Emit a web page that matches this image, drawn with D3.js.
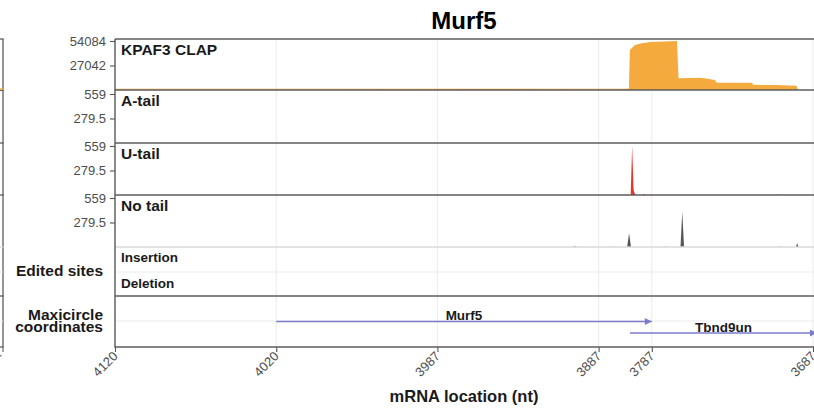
<!DOCTYPE html>
<html>
<head>
<meta charset="utf-8">
<script src="https://cdn.jsdelivr.net/npm/d3@7"></script>
<style>
  html, body { margin: 0; padding: 0; background: #fff; }
  svg { display: block; font-family: "Liberation Sans", Arial, Helvetica, sans-serif; }
</style>
</head>
<body>
<svg id="chart" width="814" height="409"></svg>
<script>
// ---- data -------------------------------------------------------------
const title = "Murf5";
const trackNames = ["KPAF3 CLAP", "A-tail", "U-tail", "No tail"];
const trackMax = [54084, 559, 559, 559];
const trackTicks = [[54084, 27042], [559, 279.5], [559, 279.5], [559, 279.5]];

const editRows = ["Insertion", "Deletion"];

// alignment position (x) and the mRNA coordinate printed at each tick
const xTickPos = [0, 100, 200, 300, 333, 433];
const xTickLabels = ["4120", "4020", "3987", "3887", "3787", "3687"];

// KPAF3 CLAP coverage
const clapPos = [0, 40, 90, 140, 180, 210, 230, 250, 270, 300, 313.5, 315, 318.8,
                 319.4, 320.6, 322.6, 326, 331.9, 341, 348.6, 349.6, 357, 363, 366.5,
                 372.2, 373.2, 395.2, 395.8, 410, 422.8, 423.6];
const clapVal = [300, 250, 300, 350, 500, 900, 1200, 900, 500, 350, 400, 900, 1400,
                 44150, 46400, 49700, 51200, 53000, 53400, 54084, 12900, 13200, 13500, 12800,
                 11000, 8060, 7900, 5740, 5400, 4750, 0];

// A-tail reads: none in this region
const aTailPos = [0, 433];
const aTailVal = [0, 0];

// U-tail reads
const uTailPos = [0, 316.8, 317.3, 317.8, 319.9, 320.8, 321.7, 322.1, 322.9,
                  327.7, 328.2, 328.7, 410.8, 411.3, 411.8, 433];
const uTailVal = [0, 0, 8, 0, 0, 559, 60, 30, 0,
                  0, 14, 0, 0, 12, 0, 0];

// untailed reads
const noTailPos = [0, 284.6, 285.4, 286.2, 306.8, 307.5, 308.2, 317.7, 318.9, 320.1,
                   341.1, 341.8, 342.5, 350.8, 351.9, 353.0, 411.8, 412.5, 413.2,
                   422.4, 423.2, 424.0, 433];
const noTailVal = [0, 0, 15, 0, 0, 6, 0, 0, 156, 0,
                   0, 5, 0, 0, 403, 0, 0, 6, 0,
                   0, 42, 0, 0];

// maxicircle gene annotations
const geneNames = ["Murf5", "Tbnd9un"];
const geneStart = [100, 319.5];
const geneEnd = [333, 435.5];
const geneRow = [0, 1];

// ---- layout -----------------------------------------------------------
const svg = d3.select("#chart");
const left = 115, plotRight = 813;
const panelTop = [39, 90, 143, 195, 247, 296];
const plotBottom = 347;
const trackHeight = 49;       // pixels from baseline to the track maximum
const borderColor = "#5c5c5c";
const gridColor = "#ebebeb";
const tickFont = 13;

const x = d3.scaleLinear().domain([0, 433]).range([left, plotRight]);

const tracks = [
  { pos: clapPos, val: clapVal, color: "#f4aa3d" },
  { pos: aTailPos, val: aTailVal, color: "#4a9a4a" },
  { pos: uTailPos, val: uTailVal, color: "#e8342b" },
  { pos: noTailPos, val: noTailVal, color: "#555555" }
];

// neighbouring figure sliver at the left edge
const sliver = svg.append("g");
sliver.append("line").attr("x1", 3).attr("x2", 3).attr("y1", panelTop[0]).attr("y2", plotBottom)
  .attr("stroke", borderColor).attr("stroke-width", 1.3);
[272, 321].forEach(yy => sliver.append("line").attr("x1", 0).attr("x2", 3).attr("y1", yy).attr("y2", yy)
  .attr("stroke", gridColor).attr("stroke-width", 1));
[39, 143, 195, 296, 347].forEach(yy => sliver.append("line").attr("x1", 0).attr("x2", 3.6).attr("y1", yy).attr("y2", yy)
  .attr("stroke", borderColor).attr("stroke-width", 1.3));
sliver.append("line").attr("x1", 0).attr("x2", 3.6).attr("y1", 247).attr("y2", 247)
  .attr("stroke", "#d9d9d9").attr("stroke-width", 1.2);
sliver.append("line").attr("x1", 0).attr("x2", 3.6).attr("y1", 89).attr("y2", 89)
  .attr("stroke", "#f0a43a").attr("stroke-width", 1.4);
sliver.append("line").attr("x1", 0).attr("x2", 3.6).attr("y1", 90.5).attr("y2", 90.5)
  .attr("stroke", borderColor).attr("stroke-width", 1);
sliver.append("line").attr("x1", 3).attr("x2", 3).attr("y1", plotBottom).attr("y2", plotBottom + 5)
  .attr("stroke", borderColor).attr("stroke-width", 1.1);
sliver.append("text").attr("transform", `translate(2,${plotBottom + 8}) rotate(-45)`)
  .attr("text-anchor", "end").attr("font-size", tickFont).attr("fill", "#4d4d4d").text("3822");

// vertical grid lines through all panels
svg.append("g").selectAll("line").data(xTickPos).join("line")
  .attr("x1", d => x(d)).attr("x2", d => x(d))
  .attr("y1", panelTop[0]).attr("y2", plotBottom)
  .attr("stroke", gridColor).attr("stroke-width", 1);

// horizontal grid lines in the categorical panels
svg.append("line").attr("x1", left).attr("x2", 820).attr("y1", 272).attr("y2", 272)
  .attr("stroke", gridColor).attr("stroke-width", 1);
svg.append("line").attr("x1", left).attr("x2", 820).attr("y1", 321).attr("y2", 321)
  .attr("stroke", gridColor).attr("stroke-width", 1);

// coverage tracks
tracks.forEach((t, i) => {
  const bottom = panelTop[i + 1];
  const y = d3.scaleLinear().domain([0, trackMax[i]]).range([bottom, bottom - trackHeight]);
  const pts = t.pos.map((p, j) => [p, t.val[j]]);
  const area = d3.area().x(d => x(d[0])).y0(bottom).y1(d => y(d[1]));
  svg.append("path").datum(pts).attr("d", area).attr("fill", t.color);
  if (i === 0) {
    // thin baseline trace
    svg.append("line").attr("x1", left).attr("x2", x(423.6)).attr("y1", bottom - 0.8).attr("y2", bottom - 0.8)
      .attr("stroke", t.color).attr("stroke-width", 0.9);
  }

  // y axis ticks and labels
  const axis = d3.axisLeft(y).tickValues(trackTicks[i]).tickSize(5).tickPadding(4)
    .tickFormat(d => String(d));
  const g = svg.append("g").attr("transform", `translate(${left},0)`).call(axis);
  g.select(".domain").remove();
  g.selectAll(".tick line").attr("stroke", "#555").attr("stroke-width", 1.1);
  g.selectAll(".tick text").attr("font-size", tickFont).attr("fill", "#4d4d4d")
    .attr("font-family", "Liberation Sans, Arial, sans-serif");

  // track title
  svg.append("text").attr("x", left + 6).attr("y", panelTop[i] + 15.5)
    .attr("font-size", 15.5).attr("font-weight", "bold").attr("fill", "#1a1a1a")
    .text(trackNames[i]);
});

// edited site rows
const editY = d3.scalePoint().domain(editRows).range([262, 287.5]);
svg.append("g").selectAll("text").data(editRows).join("text")
  .attr("x", left + 6).attr("y", d => editY(d))
  .attr("font-size", 13.5).attr("font-weight", "bold").attr("fill", "#1a1a1a")
  .text(d => d);

// side labels
svg.append("text").attr("x", 103).attr("y", 276).attr("text-anchor", "end")
  .attr("font-size", 15.5).attr("font-weight", "bold").attr("fill", "#1a1a1a").text("Edited sites");
svg.append("text").attr("x", 103).attr("y", 319.5).attr("text-anchor", "end")
  .attr("font-size", 15.5).attr("font-weight", "bold").attr("fill", "#1a1a1a").text("Maxicircle");
svg.append("text").attr("x", 103).attr("y", 332).attr("text-anchor", "end")
  .attr("font-size", 15.5).attr("font-weight", "bold").attr("fill", "#1a1a1a").text("coordinates");

// gene arrows
const arrowColor = "#7a7ccb";
svg.append("defs").append("marker")
  .attr("id", "head").attr("viewBox", "0 0 10 10").attr("refX", 10).attr("refY", 5)
  .attr("markerUnits", "userSpaceOnUse").attr("markerWidth", 9).attr("markerHeight", 7)
  .attr("orient", "auto")
  .append("path").attr("d", "M0,0L10,5L0,10Z").attr("fill", arrowColor);

const rowY = d3.scaleOrdinal().domain([0, 1]).range([321.5, 333]);
geneNames.forEach((name, i) => {
  const yy = rowY(geneRow[i]);
  svg.append("line").attr("x1", x(geneStart[i])).attr("x2", x(geneEnd[i]))
    .attr("y1", yy).attr("y2", yy)
    .attr("stroke", arrowColor).attr("stroke-width", 1.5)
    .attr("marker-end", "url(#head)");
  svg.append("text").attr("x", (x(geneStart[i]) + x(geneEnd[i])) / 2).attr("y", yy - 1.5)
    .attr("text-anchor", "middle").attr("font-size", 13.5).attr("font-weight", "bold")
    .attr("fill", "#1a1a1a").text(name);
});

// panel borders
const borders = [
  { y: 39, c: borderColor }, { y: 90, c: borderColor }, { y: 143, c: borderColor },
  { y: 195, c: borderColor }, { y: 247, c: "#d9d9d9" }, { y: 296, c: borderColor }
];
svg.append("g").selectAll("line").data(borders).join("line")
  .attr("x1", left).attr("x2", 820).attr("y1", d => d.y).attr("y2", d => d.y)
  .attr("stroke", d => d.c).attr("stroke-width", 1.4);
svg.append("line").attr("x1", left).attr("x2", left).attr("y1", 39).attr("y2", plotBottom)
  .attr("stroke", borderColor).attr("stroke-width", 1.4);

// x axis
const xAxis = d3.axisBottom(x).tickValues(xTickPos).tickSize(5).tickPadding(3)
  .tickFormat((d, i) => xTickLabels[i]);
const gx = svg.append("g").attr("transform", `translate(0,${plotBottom})`).call(xAxis);
gx.select(".domain").remove();
svg.append("line").attr("x1", left - 0.7).attr("x2", 820).attr("y1", plotBottom).attr("y2", plotBottom)
  .attr("stroke", borderColor).attr("stroke-width", 1.4);
gx.selectAll(".tick line").attr("stroke", "#555").attr("stroke-width", 1.1);
gx.selectAll(".tick text")
  .attr("font-size", tickFont).attr("fill", "#4d4d4d")
  .attr("font-family", "Liberation Sans, Arial, sans-serif")
  .attr("text-anchor", "end").attr("dy", null).attr("y", null)
  .attr("transform", "translate(3,10) rotate(-45)");

// titles
svg.append("text").attr("x", (left + plotRight) / 2).attr("y", 29).attr("text-anchor", "middle")
  .attr("font-size", 24).attr("font-weight", "bold").attr("fill", "#000").text(title);
svg.append("text").attr("x", (left + plotRight) / 2).attr("y", 402).attr("text-anchor", "middle")
  .attr("font-size", 16.5).attr("font-weight", "bold").attr("fill", "#1a1a1a").text("mRNA location (nt)");
</script>
</body>
</html>
